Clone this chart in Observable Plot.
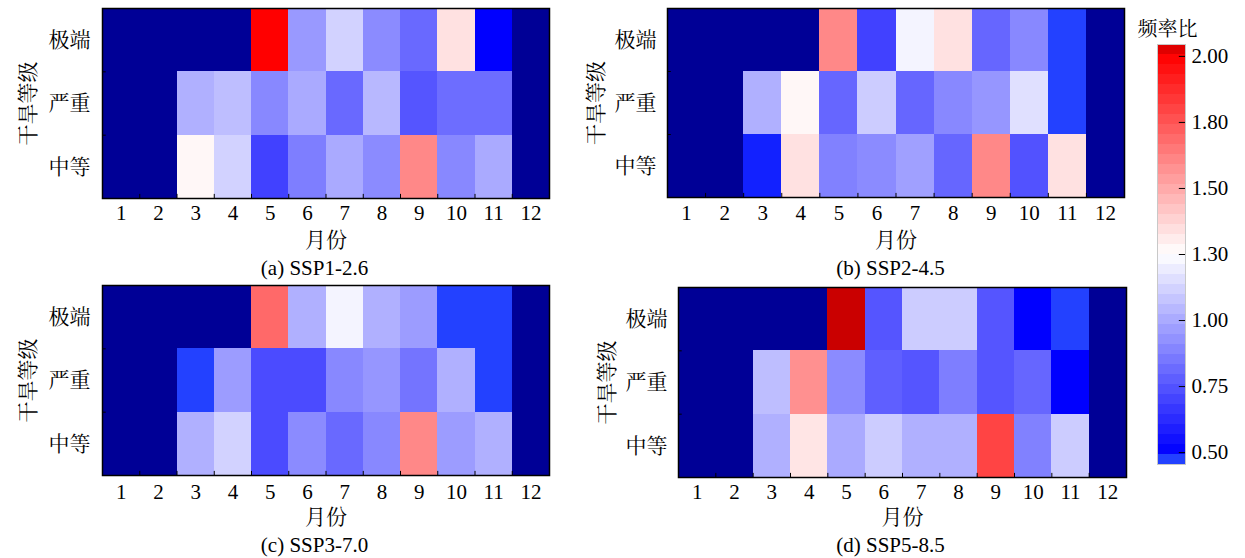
<!DOCTYPE html>
<html><head><meta charset="utf-8">
<script src="https://cdn.jsdelivr.net/npm/d3@7"></script>
<script src="https://cdn.jsdelivr.net/npm/@observablehq/plot@0.6"></script>
<style>
body{margin:0;background:#fff;}
#chart{position:relative;width:1245px;height:558px;overflow:hidden;background:#fff;}
#chart svg{position:absolute;left:0;top:0;}
</style></head><body><div id="chart"></div>
<script>
// ---- data ----
const months = [1,2,3,4,5,6,7,8,9,10,11,12];
const levels = ["中等","严重","极端"]; // bottom to top
const scenarios = ["(a) SSP1-2.6","(b) SSP2-4.5","(c) SSP3-7.0","(d) SSP5-8.5"];
const cbTicks = [0.50,0.75,1.00,1.30,1.50,1.80,2.00];
const cbTickLabels = ["0.50","0.75","1.00","1.30","1.50","1.80","2.00"];

// frequency ratio, months 1..12 (null = no drought event)
const ssp126_extreme  = [null,null,null,null,2.00,0.95,1.14,0.91,0.81,1.37,0.50,null];
const ssp126_severe   = [null,null,1.02,1.07,0.90,1.00,0.81,1.05,0.75,0.82,0.82,null];
const ssp126_moderate = [null,null,1.32,1.14,0.69,0.87,1.00,0.91,1.62,0.90,1.00,null];

const ssp245_extreme  = [null,null,null,null,1.62,0.69,1.26,1.37,0.80,0.90,0.46,null];
const ssp245_severe   = [null,null,1.02,1.32,0.80,1.12,0.80,0.90,0.94,1.19,0.46,null];
const ssp245_moderate = [null,null,0.49,1.37,0.88,0.91,0.97,0.80,1.62,0.74,1.37,null];

const ssp370_extreme  = [null,null,null,null,1.73,1.02,1.26,1.02,0.96,0.46,0.46,null];
const ssp370_severe   = [null,null,0.46,0.96,0.72,0.72,0.90,0.94,0.84,1.02,0.46,null];
const ssp370_moderate = [null,null,1.02,1.14,0.72,0.91,0.81,0.90,1.62,0.96,1.02,null];

const ssp585_extreme  = [null,null,null,null,2.035,0.75,1.12,1.12,0.75,0.50,0.46,null];
const ssp585_severe   = [null,null,1.07,1.59,0.91,0.78,0.75,0.87,0.75,0.80,0.50,null];
const ssp585_moderate = [null,null,1.02,1.36,1.00,1.12,1.02,1.02,1.84,0.88,1.12,null];

// ---- styling ----
const FONT = '"Liberation Serif","Times New Roman","Noto Serif CJK SC","Noto Sans CJK SC",serif';
const NAVY = "#000096";
const colorDomain = [0.45,0.48,0.50,0.75,1.00,1.30,1.50,1.80,2.00,2.05];
const colorRange = ["rgb(35,65,255)","rgb(35,65,255)","rgb(0,0,255)","rgb(85,85,255)","rgb(170,170,255)",
  "rgb(255,255,255)","rgb(255,170,170)","rgb(255,85,85)","rgb(255,0,0)","rgb(180,0,0)"];
const colorOpts = {type:"linear", domain: colorDomain, range: colorRange, interpolate:"rgb", clamp:true};

const W = 1245, H = 558;
const panels = [
  {caption: scenarios[0], rows:[ssp126_moderate, ssp126_severe, ssp126_extreme], left:102, right:549, top:8, bottom:198, rowPad:12, titleX:28, tickY:213, xlabY:240, capY:268, capX:314},
  {caption: scenarios[1], rows:[ssp245_moderate, ssp245_severe, ssp245_extreme], left:667, right:1124, top:8, bottom:197, rowPad:11, titleX:596, tickY:213, xlabY:240, capX:890, capY:268},
  {caption: scenarios[2], rows:[ssp370_moderate, ssp370_severe, ssp370_extreme], left:102, right:549, top:285, bottom:475, rowPad:12, titleX:28, tickY:492, xlabY:517, capX:314, capY:545},
  {caption: scenarios[3], rows:[ssp585_moderate, ssp585_severe, ssp585_extreme], left:678, right:1126, top:287, bottom:477, rowPad:11, titleX:607, tickY:492, xlabY:517, capX:890, capY:545}
];

function panel(p) {
  const data = [];
  p.rows.forEach((vals, r) => vals.forEach((v, i) => {
    if (v != null) data.push({month: months[i], row: r, value: v});
  }));
  const bounds = months.slice(0, -1).map(m => m + 0.5);
  const midX = (p.left + p.right) / 2;
  return Plot.plot({
    width: W, height: H,
    marginLeft: p.left, marginRight: W - p.right, marginTop: p.top, marginBottom: H - p.bottom,
    x: {type: "linear", domain: [0.5, 12.5], axis: null},
    y: {type: "linear", domain: [0, 3], axis: null},
    color: colorOpts,
    style: {fontFamily: FONT, background: "transparent", color: "black", overflow: "visible"},
    marks: [
      Plot.frame({fill: NAVY}),
      Plot.rect(data, {x1: d => d.month - 0.5, x2: d => d.month + 0.5, y1: d => d.row, y2: d => d.row + 1, fill: "value", shapeRendering: "crispEdges"}),
      Plot.ruleX(bounds, {y1: 0, y2: 0.065, stroke: "black", strokeWidth: 1}),
      Plot.ruleY([1, 2], {x1: 0.5, x2: 0.6, stroke: "black", strokeWidth: 1}),
      Plot.frame({stroke: "black", strokeWidth: 1.5}),
      Plot.text(months, {x: d => d, text: d => String(d), frameAnchor: "bottom", textAnchor: "middle", dy: p.tickY - p.bottom, lineAnchor: "middle", fontSize: 21, fill: "black"}),
      Plot.text(levels, {x: () => 0.5, y: (d, i) => i + 0.5, text: d => d, textAnchor: "end", dx: -p.rowPad, fontSize: 21, fill: "black"}),
      Plot.text(["干旱等级"], {frameAnchor: "left", textAnchor: "middle", lineAnchor: "middle", dx: p.titleX - p.left, rotate: -90, text: d => d, fontSize: 21, fill: "black"}),
      Plot.text(["月份"], {frameAnchor: "bottom", textAnchor: "middle", dy: p.xlabY - p.bottom, lineAnchor: "middle", text: d => d, fontSize: 21, fill: "black"}),
      Plot.text([p.caption], {frameAnchor: "bottom", textAnchor: "middle", dx: p.capX - midX, dy: p.capY - p.bottom, lineAnchor: "middle", text: d => d, fontSize: 21, fill: "black"})
    ]
  });
}

function colorbar() {
  const y0 = -0.18, y1 = 6.18, n = 42, step = (y1 - y0) / n;
  const posToVal = d3.scaleLinear().domain(d3.range(cbTicks.length)).range(cbTicks);
  const bands = d3.range(n).map(i => ({p1: y0 + i * step, p2: y0 + (i + 1) * step, value: posToVal(y0 + (i + 0.5) * step)}));
  return Plot.plot({
    width: W, height: H,
    marginLeft: 1157, marginRight: W - 1185, marginTop: 44, marginBottom: H - 464,
    x: {domain: [0, 1], axis: null},
    y: {domain: [y0, y1], axis: null},
    color: colorOpts,
    style: {fontFamily: FONT, background: "transparent", color: "black", overflow: "visible"},
    marks: [
      Plot.rect(bands, {x1: 0, x2: 1, y1: "p1", y2: "p2", fill: "value", shapeRendering: "crispEdges"}),
      Plot.frame({stroke: "#c8c8c8"}),
      Plot.ruleY(d3.range(cbTicks.length), {x1: 0.78, x2: 1, stroke: "black", strokeWidth: 1}),
      Plot.text(cbTickLabels, {x: () => 1, y: (d, i) => i, text: d => d, textAnchor: "start", dx: 6, fontSize: 21, fill: "black"}),
      Plot.text(["频率比"], {frameAnchor: "top", textAnchor: "middle", dy: -23, dx: -4, text: d => d, fontSize: 20, fill: "black"})
    ]
  });
}

const root = document.getElementById("chart");
panels.forEach(p => root.appendChild(panel(p)));
root.appendChild(colorbar());
</script>
</body></html>
